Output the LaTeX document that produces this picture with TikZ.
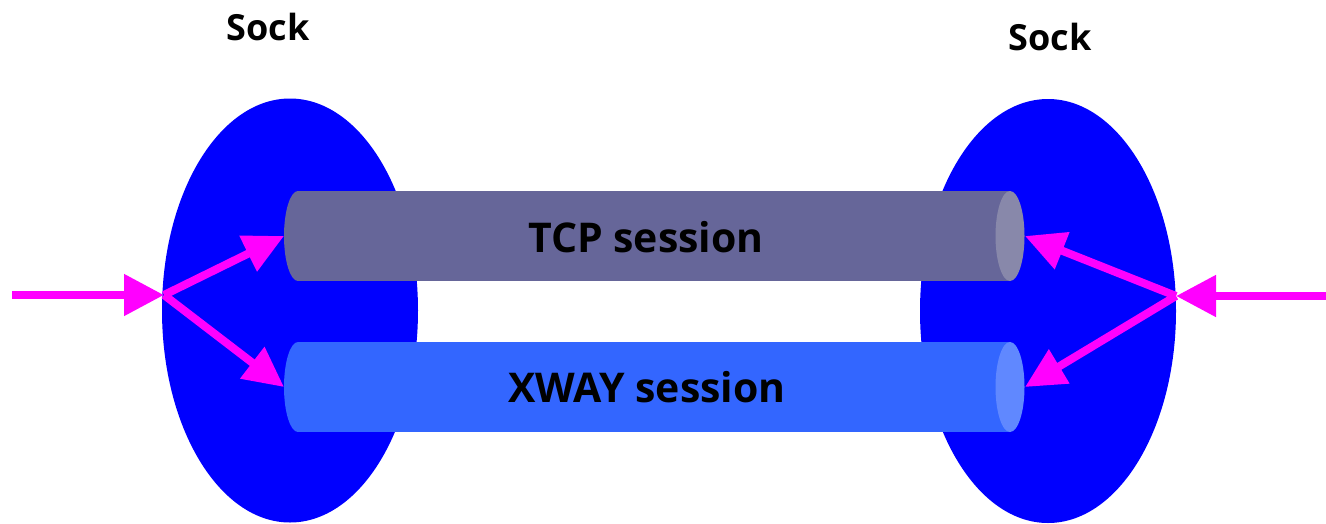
\documentclass[tikz,border=0pt]{standalone}
\usepackage{fontspec}
\setmainfont{Open Sans}
\usetikzlibrary{arrows.meta,shapes.geometric}
\definecolor{sockblue}{HTML}{0000FF}
\definecolor{tcpbody}{HTML}{666699}
\definecolor{tcpcap}{HTML}{8888AA}
\definecolor{xwaybody}{HTML}{3366FF}
\definecolor{xwaycap}{HTML}{6088FF}
\definecolor{mag}{HTML}{FF00FF}
\tikzset{
  sock/.style={ellipse, fill=sockblue, draw=none, minimum width=256pt, minimum height=424pt, inner sep=0pt},
  socklabel/.style={font=\bfseries\fontsize{36}{42}\selectfont, inner sep=0pt},
  sesslabel/.style={font=\bfseries\fontsize{41}{48}\selectfont, inner sep=0pt},
  bigarrow/.style={draw=mag, line width=8pt, -{Triangle[length=40pt,width=40pt]}},
  brarrow/.style={draw=mag, line width=8pt, -{Triangle[length=40pt,width=38pt]}},
}
\begin{document}
\begin{tikzpicture}[x=1pt,y=-1pt]
\useasboundingbox (0,0) rectangle (1326,523);
\node[sock] (lsock) at (290,310.5) {};
\node[sock] (rsock) at (1048,311) {};
\node[socklabel] (llab) at (268,27) {Sock};
\node[socklabel] (rlab) at (1050,37) {Sock};
% TCP cylinder
\fill[tcpbody] (298,191) rectangle (1010,281);
\fill[tcpbody] (298,236) ellipse [x radius=14, y radius=45];
\fill[tcpcap] (1010,236) ellipse [x radius=14.5, y radius=45];
% XWAY cylinder
\fill[xwaybody] (298,342) rectangle (1010,432);
\fill[xwaybody] (298,387) ellipse [x radius=14, y radius=45];
\fill[xwaycap] (1010,387) ellipse [x radius=14.5, y radius=45];
\node[sesslabel] (tcp) at (646,237) {TCP session};
\node[sesslabel] (xway) at (647,387) {XWAY session};
% arrows
\coordinate (lin) at (12,295);
\coordinate (lhub) at (164,295);
\coordinate (ltcp) at (284,236);
\coordinate (lxway) at (284,387);
\coordinate (rin) at (1326,296);
\coordinate (rhub) at (1176,296);
\coordinate (rtcp) at (1025,236);
\coordinate (rxway) at (1025,387);
\draw[bigarrow] (lin) -- (lhub);
\draw[brarrow] (lhub) -- (ltcp);
\draw[brarrow] (lhub) -- (lxway);
\draw[bigarrow] (rin) -- (rhub);
\draw[brarrow] (rhub) -- (rtcp);
\draw[brarrow] (rhub) -- (rxway);
\end{tikzpicture}
\end{document}
